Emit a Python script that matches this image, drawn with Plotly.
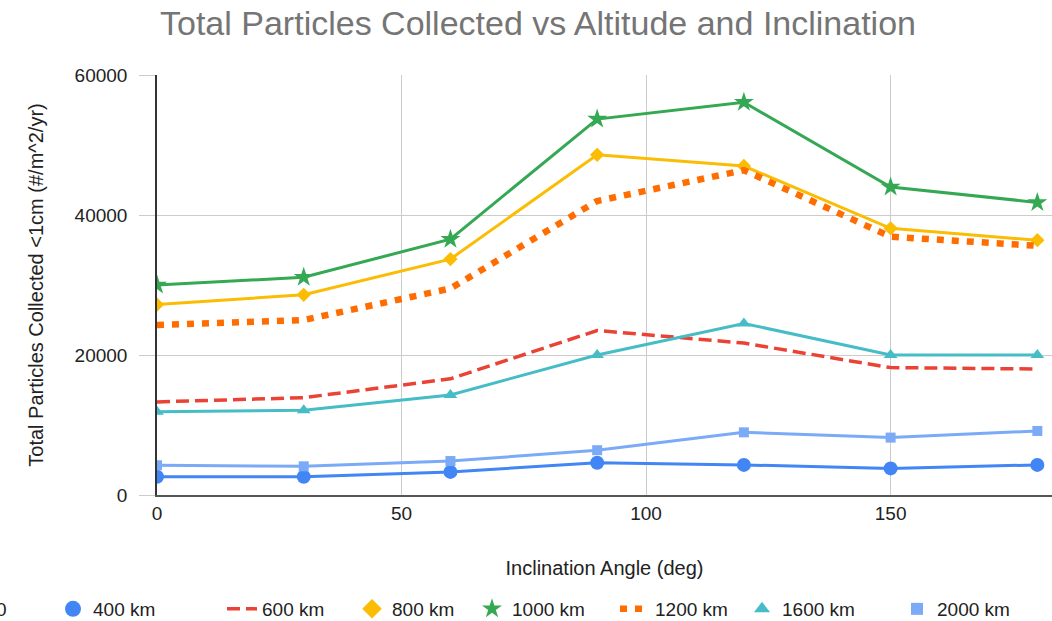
import plotly.graph_objects as go

# Inclination angles (deg)
inclination = [0, 30, 60, 90, 120, 150, 180]

# Total particles collected <1cm (#/m^2/yr) per orbit altitude
alt_400 = [2600, 2600, 3300, 4600, 4300, 3800, 4300]
alt_600 = [13300, 13900, 16600, 23500, 21700, 18200, 18000]
alt_800 = [27200, 28600, 33700, 48600, 47000, 38100, 36400]
alt_1000 = [30000, 31100, 36550, 53700, 56100, 44000, 41800]
alt_1200 = [24300, 25000, 29500, 42000, 46400, 36900, 35600]
alt_1600 = [11900, 12100, 14300, 20000, 24500, 20000, 20000]
alt_2000 = [4250, 4100, 4850, 6400, 8950, 8200, 9150]

x_ticks = [0, 50, 100, 150]
y_ticks = [0, 20000, 40000, 60000]

FONT = "Liberation Sans, Arial, sans-serif"
TEXT = "#222222"

# name, values, colour, dash, line width, symbol, marker size, legend symbol size,
# legend text start (px from the left of the page)
series = [
    ("400 km", alt_400, "#4285F4", "solid", 3, "circle", 14, 16, 93),
    ("600 km", alt_600, "#EA4335", "13px,6px", 3.5, None, 0, 0, 262),
    ("800 km", alt_800, "#FBBC04", "solid", 3, "diamond", 11, 15, 392),
    ("1000 km", alt_1000, "#34A853", "solid", 3, "star", 15, 15, 512),
    ("1200 km", alt_1200, "#FF6D01", "7px,8px", 6.5, None, 0, 0, 655),
    ("1600 km", alt_1600, "#46BDC6", "solid", 3, "triangle-up", 12, 14, 782),
    ("2000 km", alt_2000, "#7BAAF7", "solid", 3, "square", 10, 12, 937),
]

fig = go.Figure()

for name, vals, color, dash, lw, sym, msize, _, _ in series:
    mode = "lines+markers" if sym else "lines"
    fig.add_trace(go.Scatter(
        x=inclination, y=vals, name=name, mode=mode,
        line=dict(color=color, width=lw, dash=dash),
        marker=dict(symbol=sym or "circle", size=msize, color=color),
        showlegend=False,
    ))

# One single-entry legend per series so the entries sit in a spaced row
legend_layout = {}
for i, (name, vals, color, dash, lw, sym, msize, lsize, text_x) in enumerate(series):
    key = "legend" if i == 0 else f"legend{i + 1}"
    if sym:
        fig.add_trace(go.Scatter(
            x=[None], y=[None], name=name, mode="markers",
            marker=dict(symbol=sym, size=lsize, color=color),
            legend=key,
        ))
    else:
        fig.add_trace(go.Scatter(
            x=[None], y=[None], name=name, mode="lines",
            line=dict(color=color, width=lw, dash=dash),
            legend=key,
        ))
    legend_layout[key] = dict(
        orientation="h", xref="container", yref="container",
        x=(text_x - 40) / 1052, xanchor="left",
        y=1 - 609 / 621, yanchor="middle",
        font=dict(family=FONT, size=19, color=TEXT),
        bgcolor="rgba(0,0,0,0)", borderwidth=0,
    )

fig.update_layout(
    width=1052, height=621,
    margin=dict(l=157, r=0, t=75, b=126),
    paper_bgcolor="white", plot_bgcolor="white",
    font=dict(family=FONT, size=18, color=TEXT),
    title=dict(
        text="Total Particles Collected vs Altitude and Inclination",
        font=dict(family=FONT, size=34, color="#757575"),
        x=538 / 1052, xanchor="center",
        y=1 - 23 / 621, yanchor="middle",
    ),
    xaxis=dict(
        range=[0, 183], tickvals=x_ticks,
        showgrid=True, gridcolor="#cccccc", gridwidth=1,
        zeroline=False, showline=True, linecolor="#555555", linewidth=2,
        ticks="", ticklabelstandoff=0,
        tickfont=dict(family=FONT, size=19, color=TEXT),
        title=dict(text="Inclination Angle (deg)", standoff=38,
                   font=dict(family=FONT, size=20, color=TEXT)),
    ),
    yaxis=dict(
        range=[0, 60000], tickvals=y_ticks, tickformat="d",
        showgrid=True, gridcolor="#cccccc", gridwidth=1,
        zeroline=False, showline=True, linecolor="#333333", linewidth=1.5,
        ticks="outside", ticklen=16, tickcolor="#cccccc", tickwidth=1,
        ticklabelstandoff=8,
        tickfont=dict(family=FONT, size=19, color=TEXT),
        title=dict(text="Total Particles Collected <1cm (#/m^2/yr)", standoff=26,
                   font=dict(family=FONT, size=20, color=TEXT)),
    ),
    **legend_layout,
)

fig.add_annotation(
    text="0", xref="paper", yref="paper",
    x=(9 - 157) / 895, y=(495 - 609) / 420,
    xanchor="right", yanchor="middle", showarrow=False,
    font=dict(family=FONT, size=19, color=TEXT),
)

fig.write_html("out.html")
